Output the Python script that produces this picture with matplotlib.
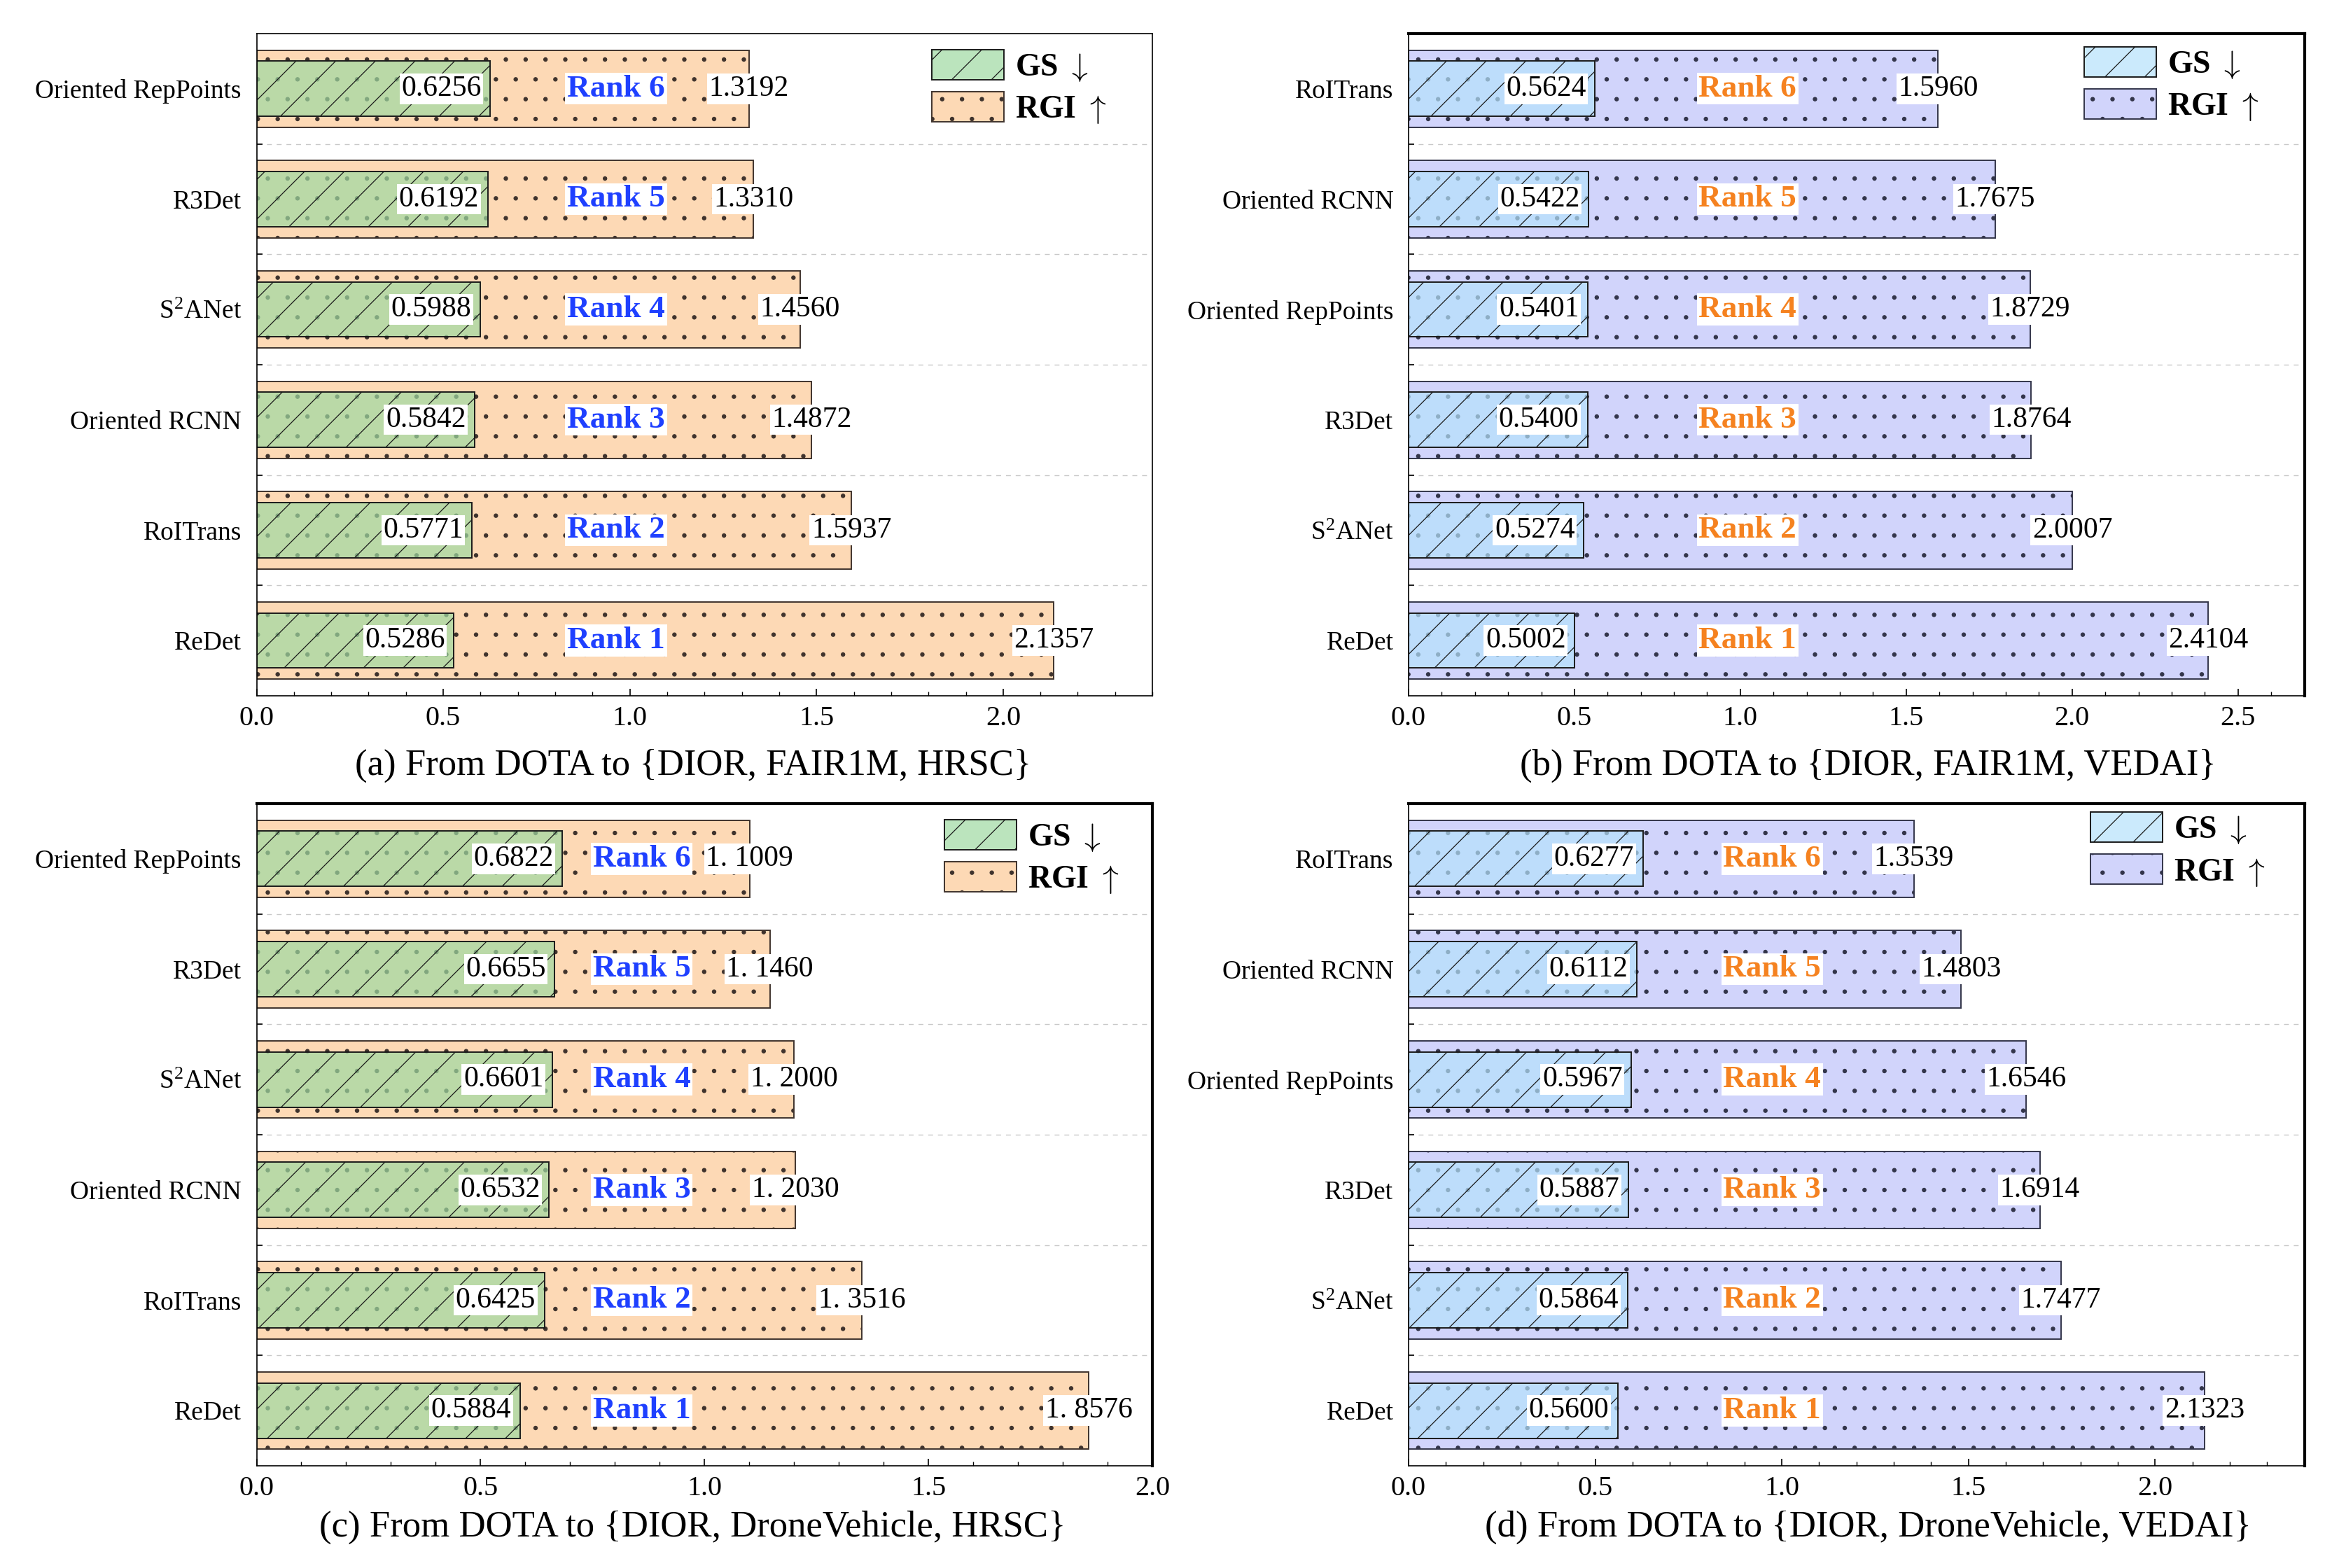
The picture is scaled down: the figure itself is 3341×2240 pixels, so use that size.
import numpy as np
import matplotlib
matplotlib.use("Agg")
import matplotlib.pyplot as plt
import matplotlib.hatch as mhatch
from matplotlib.font_manager import FontProperties
from matplotlib.ticker import MultipleLocator, FixedLocator

plt.rcParams['font.family'] = ['Liberation Serif', 'DejaVu Serif']
plt.rcParams['mathtext.fontset'] = 'custom'
plt.rcParams['mathtext.rm'] = 'Liberation Serif'

# hatch dot size
mhatch.SmallFilledCircles.size = 0.09

# ---------------- data ----------------
cats_a = ["Oriented RepPoints", "R3Det", r"$\mathrm{S^2ANet}$", "Oriented RCNN", "RoITrans", "ReDet"]
gs_a = [0.6256, 0.6192, 0.5988, 0.5842, 0.5771, 0.5286]
rgi_a = [1.3192, 1.3310, 1.4560, 1.4872, 1.5937, 2.1357]
rgi_lbl_a = ["1.3192", "1.3310", "1.4560", "1.4872", "1.5937", "2.1357"]

cats_b = ["RoITrans", "Oriented RCNN", "Oriented RepPoints", "R3Det", r"$\mathrm{S^2ANet}$", "ReDet"]
gs_b = [0.5624, 0.5422, 0.5401, 0.5400, 0.5274, 0.5002]
rgi_b = [1.5960, 1.7675, 1.8729, 1.8764, 2.0007, 2.4104]
rgi_lbl_b = ["1.5960", "1.7675", "1.8729", "1.8764", "2.0007", "2.4104"]

cats_c = ["Oriented RepPoints", "R3Det", r"$\mathrm{S^2ANet}$", "Oriented RCNN", "RoITrans", "ReDet"]
gs_c = [0.6822, 0.6655, 0.6601, 0.6532, 0.6425, 0.5884]
rgi_c = [1.1009, 1.1460, 1.2000, 1.2030, 1.3516, 1.8576]
rgi_lbl_c = ["1. 1009", "1. 1460", "1. 2000", "1. 2030", "1. 3516", "1. 8576"]

cats_d = ["RoITrans", "Oriented RCNN", "Oriented RepPoints", "R3Det", r"$\mathrm{S^2ANet}$", "ReDet"]
gs_d = [0.6277, 0.6112, 0.5967, 0.5887, 0.5864, 0.5600]
rgi_d = [1.3539, 1.4803, 1.6546, 1.6914, 1.7477, 2.1323]
rgi_lbl_d = ["1.3539", "1.4803", "1.6546", "1.6914", "1.7477", "2.1323"]

ranks = ["Rank 6", "Rank 5", "Rank 4", "Rank 3", "Rank 2", "Rank 1"]
legend_labels = [r"GS $\downarrow$", r"RGI $\uparrow$"]

captions = ["(a) From DOTA to {DIOR, FAIR1M, HRSC}",
            "(b) From DOTA to {DIOR, FAIR1M, VEDAI}",
            "(c) From DOTA to {DIOR, DroneVehicle, HRSC}",
            "(d) From DOTA to {DIOR, DroneVehicle, VEDAI}"]

# ---------------- styles ----------------
W, H, DPI = 3341, 2240, 170
K = 200.0 / DPI


def pt(v):
    return v * K


plt.rcParams['hatch.linewidth'] = pt(0.45)
fig = plt.figure(figsize=(W / DPI, H / DPI), dpi=DPI)

L1, L2, AW = 0.1097, 0.6022, 0.3830
T1B, T2B, AH = 0.5563, 0.0652, 0.4223

peach = "#FDD9B5"
lav = "#D1D4FB"
green = (0.62, 0.85, 0.635, 0.7)
blue = (0.71, 0.885, 0.985, 0.7)
rank_blue = "#1F40FF"
rank_orange = "#F58220"

panels = [
    dict(rect=[L1, T1B, AW, AH], cats=cats_a, gs=gs_a, rgi=rgi_a, rl=rgi_lbl_a,
         xmax=2.4, xt=2.0, rgic=peach, gsc=green, rk=rank_blue, rx=0.963,
         thick=False, leg=(0.754, 0.976), cap=(0.487, -0.106)),
    dict(rect=[L2, T1B, AW, AH], cats=cats_b, gs=gs_b, rgi=rgi_b, rl=rgi_lbl_b,
         xmax=2.7, xt=2.5, rgic=lav, gsc=blue, rk=rank_orange, rx=1.022,
         thick=True, leg=(0.754, 0.980), cap=(0.513, -0.106)),
    dict(rect=[L1, T2B, AW, AH], cats=cats_c, gs=gs_c, rgi=rgi_c, rl=rgi_lbl_c,
         xmax=2.0, xt=2.0, rgic=peach, gsc=green, rk=rank_blue, rx=0.86,
         thick=True, leg=(0.768, 0.976), cap=(0.487, -0.093)),
    dict(rect=[L2, T2B, AW, AH], cats=cats_d, gs=gs_d, rgi=rgi_d, rl=rgi_lbl_d,
         xmax=2.4, xt=2.0, rgic=lav, gsc=blue, rk=rank_orange, rx=0.974,
         thick=True, leg=(0.761, 0.987), cap=(0.513, -0.093)),
]

for i, p in enumerate(panels):
    ax = fig.add_axes(p["rect"])
    n = len(p["cats"])
    y = np.arange(n)[::-1]
    edge_rgi = "#3f332d" if p["rgic"] == peach else "#33354a"
    b1 = ax.barh(y, p["rgi"], height=0.7, facecolor=p["rgic"], edgecolor=edge_rgi,
                 hatch='.', linewidth=pt(0.7), zorder=2)
    b2 = ax.barh(y, p["gs"], height=0.5, facecolor=p["gsc"], edgecolor="#1a1a1a",
                 hatch='/', linewidth=pt(0.7), zorder=3)

    box = dict(boxstyle="square,pad=0.06", facecolor="white", edgecolor="none")
    for yy, g, r, rl, rk in zip(y, p["gs"], p["rgi"], p["rl"], ranks):
        ax.annotate("%.4f" % g, xy=(g, yy), xytext=(pt(-4.5), 0), textcoords="offset points",
                    ha="right", va="center", fontsize=pt(15), bbox=box, zorder=5)
        ax.text(r, yy, rl, ha="center", va="center", fontsize=pt(15), bbox=box, zorder=5)
        ax.text(p["rx"], yy, rk, ha="center", va="center", fontsize=pt(16.3),
                fontweight="bold", color=p["rk"], bbox=box, zorder=5)

    ax.set_xlim(0, p["xmax"])
    ax.set_ylim(-0.5, n - 0.5)
    xt = np.arange(0, p["xt"] + 0.01, 0.5)
    ax.set_xticks(xt)
    ax.set_xticklabels(["%.1f" % v for v in xt])
    ax.xaxis.set_minor_locator(MultipleLocator(0.1))
    ax.set_yticks(y)
    ax.set_yticklabels(p["cats"])
    ax.yaxis.set_minor_locator(FixedLocator(np.arange(0.5, n - 1, 1.0)))
    ax.tick_params(axis="x", which="major", direction="in", length=pt(3.6), width=pt(0.6),
                   labelsize=pt(14.5), pad=pt(5))
    ax.tick_params(axis="x", which="minor", direction="in", length=pt(2.0), width=pt(0.5))
    ax.tick_params(axis="y", which="major", length=0, labelsize=pt(13.5), pad=pt(7.8))
    ax.tick_params(axis="y", which="minor", direction="in", length=pt(2.8), width=pt(0.6))
    ax.grid(which="minor", axis="y", color="#c8c8c8", linewidth=pt(0.5),
            linestyle=(0, (5, 5)), zorder=1)
    ax.set_axisbelow(True)
    for s in ["left", "bottom"]:
        ax.spines[s].set_linewidth(pt(0.6))
    for s in ["top", "right"]:
        ax.spines[s].set_linewidth(pt(1.5) if p["thick"] else pt(0.6))
    for s in ax.spines.values():
        s.set_zorder(6)

    lp = FontProperties(family=['Liberation Serif', 'DejaVu Serif'], weight="bold",
                        size=pt(16.5), math_fontfamily='cm')
    ax.legend([b2, b1], legend_labels, loc="upper left", bbox_to_anchor=p["leg"],
              frameon=False, borderaxespad=0, borderpad=0, prop=lp,
              handlelength=2.25, handleheight=1.07, handletextpad=0.35, labelspacing=0.26)

    ax.text(p["cap"][0], p["cap"][1], captions[i], transform=ax.transAxes, ha="center",
            va="center", fontsize=pt(19))

fig.savefig("out.png", dpi=DPI)
